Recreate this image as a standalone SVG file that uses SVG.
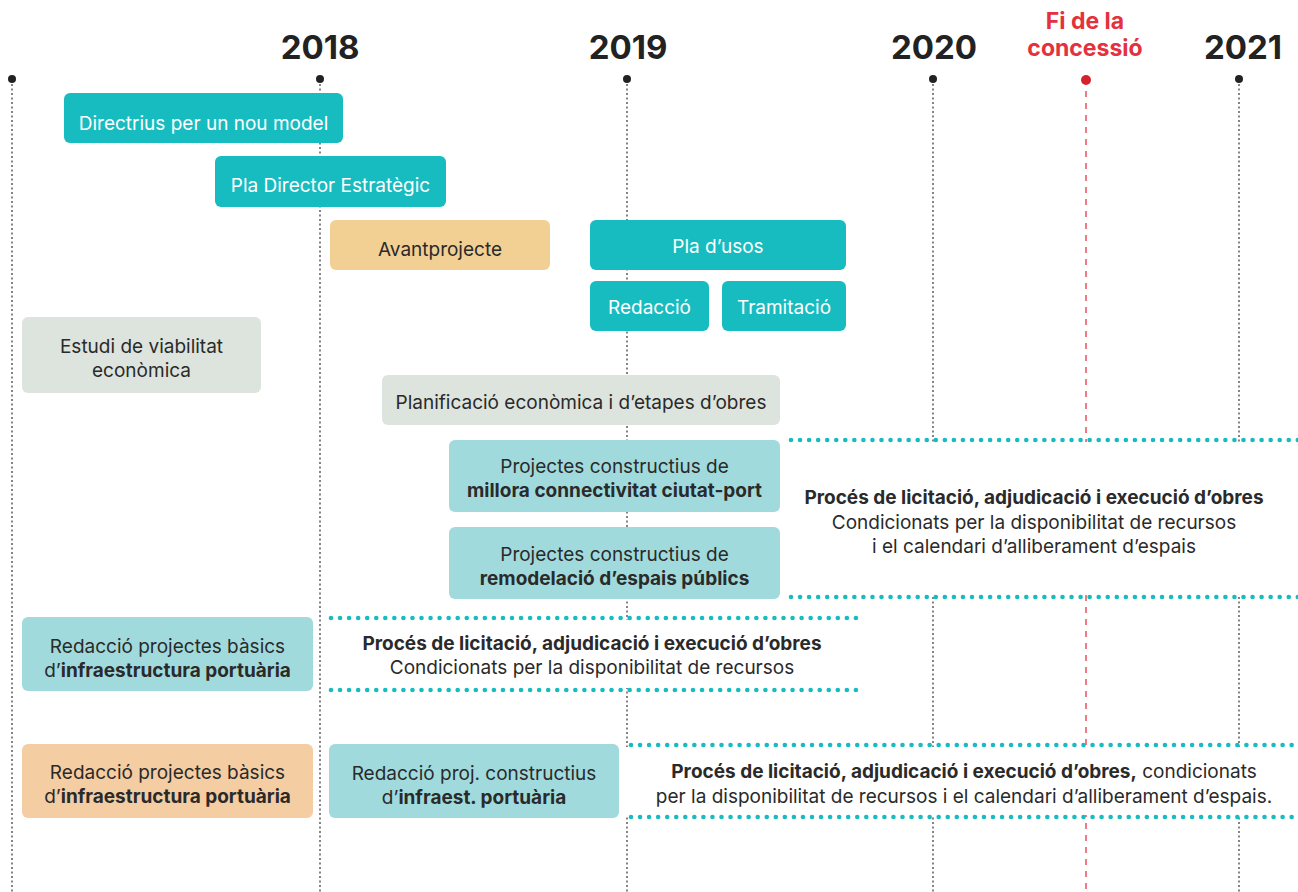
<svg xmlns="http://www.w3.org/2000/svg" width="1298" height="892" viewBox="0 0 1298 892">
<style>
text{font-family:Inter,"Noto Sans","Liberation Sans",sans-serif;}
.yr{font-size:33px;font-weight:700;fill:#222;text-anchor:middle;}
.red{font-size:23px;font-weight:700;fill:#e4313d;text-anchor:middle;}
.vl{stroke:#333;stroke-width:1.2;stroke-dasharray:2 2.5;fill:none;}
.t1{fill:#17bcc0;}
.t2{fill:#a1dadc;}
.gr{fill:#dce4dd;}
.or1{fill:#f2d093;}
.or2{fill:#f5cda3;}
.lw{font-size:19px;fill:#fff;text-anchor:middle;}
.ld{font-size:19px;fill:#2a2a2a;text-anchor:middle;}
.b{font-weight:700;}
.dot{stroke:#17bcc0;stroke-width:4.6;stroke-linecap:round;stroke-dasharray:0 9.05;fill:none;}
.band{fill:#fff;}
</style>
<rect width="1298" height="892" fill="#fff"/>
<g id="timeline">
<line class="vl" x1="12" y1="84" x2="12" y2="892"/>
<line class="vl" x1="320" y1="84" x2="320" y2="892"/>
<line class="vl" x1="627" y1="84" x2="627" y2="892"/>
<line class="vl" x1="933" y1="84" x2="933" y2="892"/>
<line class="vl" x1="1239" y1="84" x2="1239" y2="892"/>
<line x1="1086" y1="91" x2="1086" y2="892" stroke="#e4505a" stroke-width="1.5" stroke-dasharray="6 6"/>
<circle cx="12" cy="79" r="4" fill="#222"/>
<circle cx="320" cy="79" r="4" fill="#222"/>
<circle cx="627" cy="79" r="4" fill="#222"/>
<circle cx="933" cy="79" r="4" fill="#222"/>
<circle cx="1239" cy="79" r="4" fill="#222"/>
<circle cx="1086" cy="80" r="5" fill="#d6222d"/>
<text class="yr" x="320" y="59">2018</text>
<text class="yr" x="628" y="59">2019</text>
<text class="yr" x="934" y="59">2020</text>
<text class="yr" x="1243" y="59">2021</text>
<text class="red" x="1085" y="29">Fi de la</text>
<text class="red" x="1085" y="56">concessió</text>
</g>
<g id="connectors">
<rect class="band" x="785" y="442" width="513" height="153"/>
<line class="dot" x1="791" y1="440" x2="1298" y2="440"/>
<line class="dot" x1="791" y1="597" x2="1298" y2="597"/>
<rect class="band" x="325" y="620" width="535" height="68"/>
<line class="dot" x1="331" y1="618" x2="856" y2="618"/>
<line class="dot" x1="331" y1="690" x2="856" y2="690"/>
<rect class="band" x="625" y="747" width="673" height="68"/>
<line class="dot" x1="631" y1="745" x2="1298" y2="745"/>
<line class="dot" x1="631" y1="817" x2="1298" y2="817"/>
</g>
<g id="n-directrius"><rect class="t1" x="64" y="93" width="279" height="50" rx="6"/><text class="lw" x="203.5" y="130">Directrius per un nou model</text></g>
<g id="n-pde"><rect class="t1" x="215" y="156" width="231" height="51" rx="6"/><text class="lw" x="330.5" y="192">Pla Director Estratègic</text></g>
<g id="n-avant"><rect class="or1" x="330" y="220" width="220" height="50" rx="6"/><text class="ld" x="440" y="256">Avantprojecte</text></g>
<g id="n-pla-usos"><rect class="t1" x="590" y="220" width="256" height="50" rx="6"/><text class="lw" x="718" y="253">Pla d’usos</text></g>
<g id="n-redaccio"><rect class="t1" x="590" y="281" width="119" height="50" rx="6"/><text class="lw" x="649.5" y="314">Redacció</text></g>
<g id="n-tramitacio"><rect class="t1" x="722" y="281" width="124" height="50" rx="6"/><text class="lw" x="784" y="314">Tramitació</text></g>
<g id="n-estudi"><rect class="gr" x="22" y="317" width="239" height="76" rx="6"/><text class="ld" x="141.5" y="353">Estudi de viabilitat</text><text class="ld" x="141.5" y="377">econòmica</text></g>
<g id="n-planif"><rect class="gr" x="382" y="375" width="398" height="50" rx="6"/><text class="ld" x="581" y="409">Planificació econòmica i d’etapes d’obres</text></g>
<g id="n-millora"><rect class="t2" x="449" y="440" width="331" height="72" rx="6"/><text class="ld" x="614.5" y="473">Projectes constructius de</text><text class="ld b" x="614.5" y="497">millora connectivitat ciutat-port</text></g>
<g id="n-remodelacio"><rect class="t2" x="449" y="527" width="331" height="72" rx="6"/><text class="ld" x="614.5" y="561">Projectes constructius de</text><text class="ld b" x="614.5" y="585">remodelació d’espais públics</text></g>
<g id="n-basics1"><rect class="t2" x="22" y="617" width="291" height="74" rx="6"/><text class="ld" x="167.5" y="653">Redacció projectes bàsics</text><text class="ld" x="167.5" y="677">d’<tspan class="b">infraestructura portuària</tspan></text></g>
<g id="n-basics2"><rect class="or2" x="22" y="744" width="291" height="74" rx="6"/><text class="ld" x="167.5" y="779">Redacció projectes bàsics</text><text class="ld" x="167.5" y="803">d’<tspan class="b">infraestructura portuària</tspan></text></g>
<g id="n-constructius"><rect class="t2" x="329" y="744" width="290" height="74" rx="6"/><text class="ld" x="474" y="780">Redacció proj. constructius</text><text class="ld" x="474" y="804">d’<tspan class="b">infraest. portuària</tspan></text></g>
<g id="l-proces1"><text class="ld b" x="1034" y="504">Procés de licitació, adjudicació i execució d’obres</text><text class="ld" x="1034" y="529">Condicionats per la disponibilitat de recursos</text><text class="ld" x="1034" y="553">i el calendari d’alliberament d’espais</text></g>
<g id="l-proces2"><text class="ld b" x="592" y="650">Procés de licitació, adjudicació i execució d’obres</text><text class="ld" x="592" y="674">Condicionats per la disponibilitat de recursos</text></g>
<g id="l-proces3"><text class="ld" x="964" y="778"><tspan class="b">Procés de licitació, adjudicació i execució d’obres,</tspan> condicionats</text><text class="ld" x="964" y="803">per la disponibilitat de recursos i el calendari d’alliberament d’espais.</text></g>
</svg>
